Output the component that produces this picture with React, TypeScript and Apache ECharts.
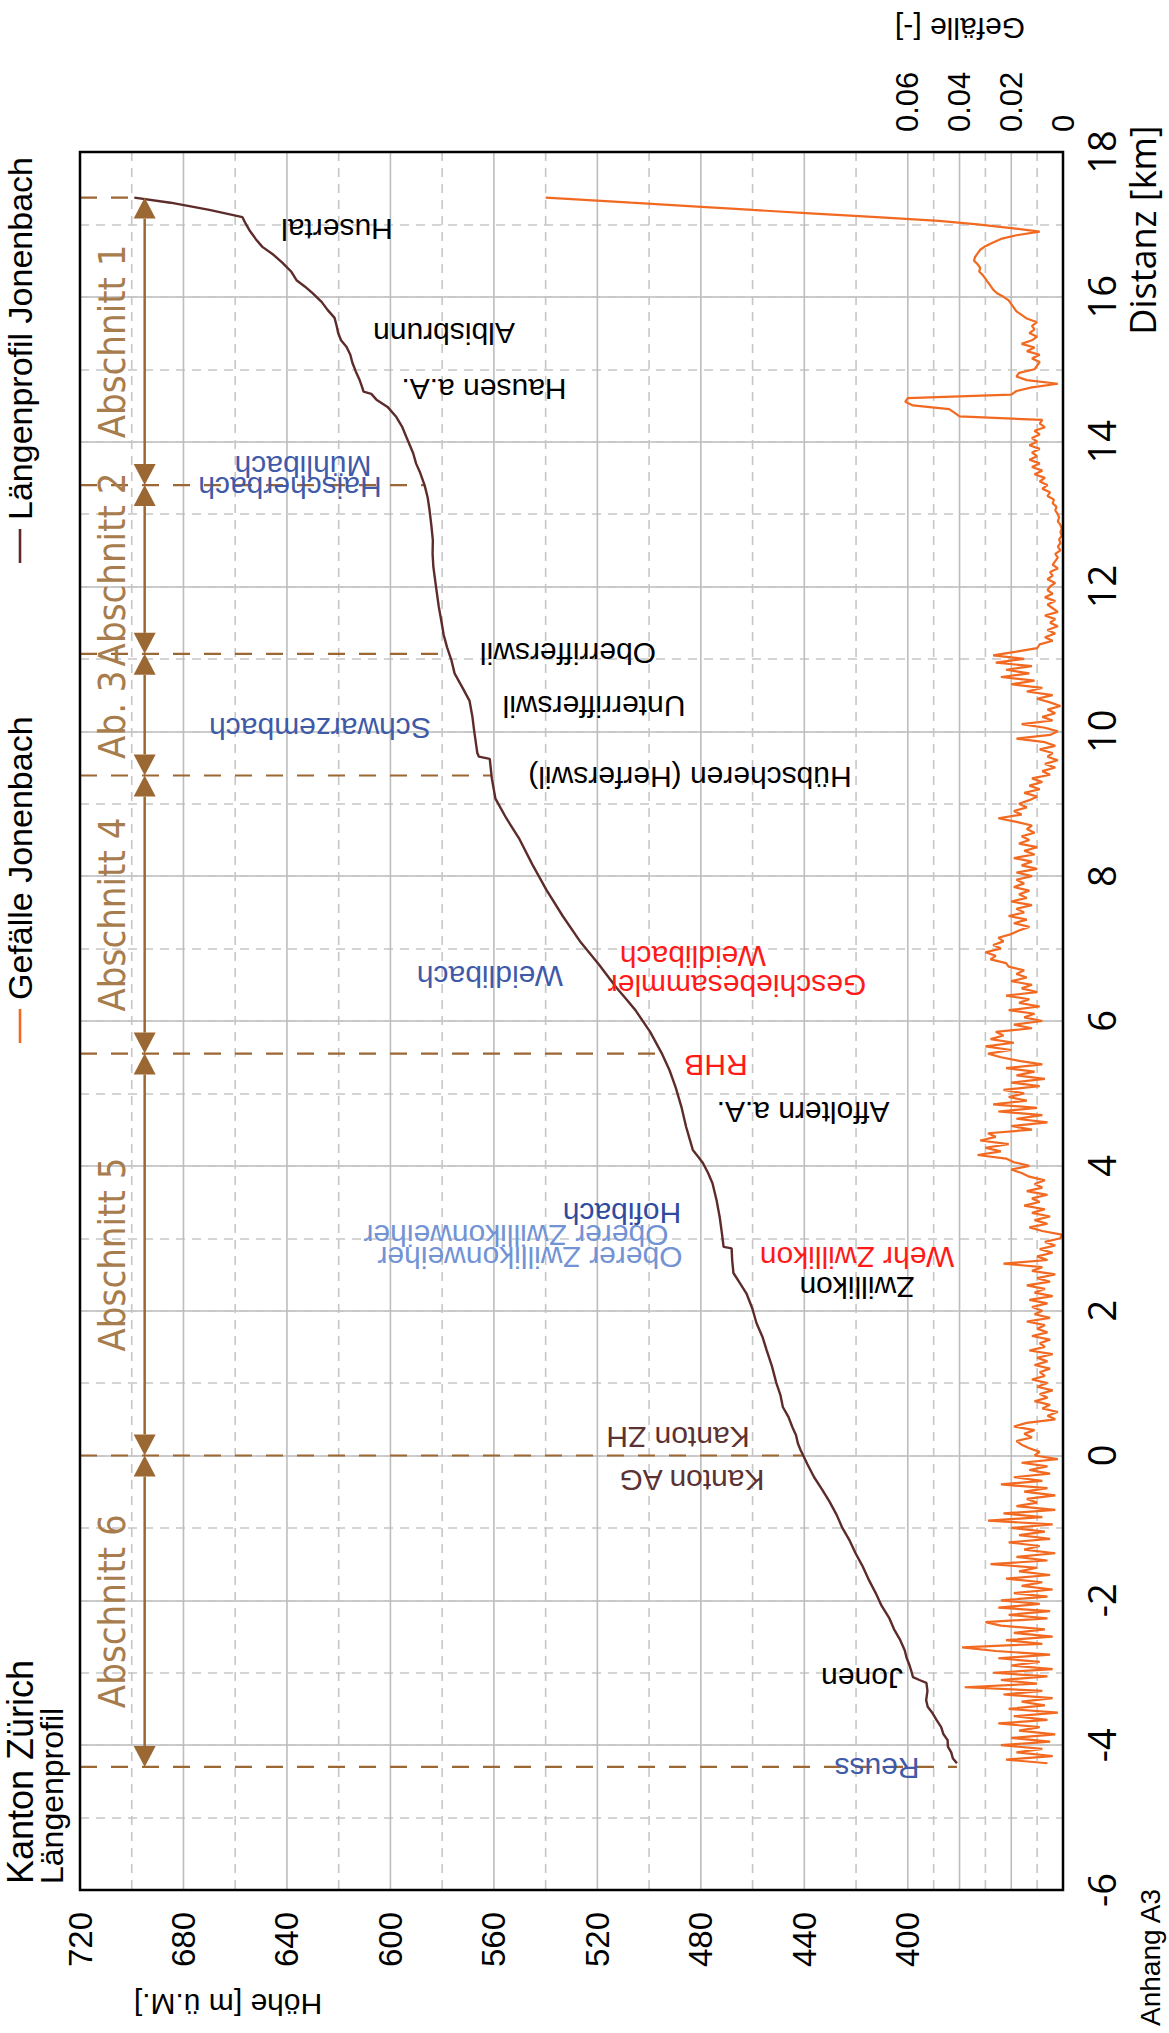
import React, { useEffect, useRef } from "react";
import * as echarts from "echarts";

// Höhe-Gitterlinien [m ü.M.]
const hoeheSolidGrid = [360, 380, 400, 440, 480, 520, 560, 600, 640, 680];
const hoeheDashedGrid = [350, 370, 390, 420, 460, 500, 540, 580, 620, 660, 700];

// Längenprofil Jonenbach: [Distanz km, Höhe m ü.M.]
const profil: [number, number][] = [
  [-4.25, 381], [-4.18, 382.6], [-4.1, 383.2], [-4.02, 384.5], [-3.93, 384.6], [-3.85, 386.2], [-3.75, 387.1],
  [-3.65, 388.9], [-3.56, 390.4], [-3.47, 392.3], [-3.38, 392.9], [-3.25, 392.4], [-3.14, 392.8], [-3.1, 395.5],
  [-3.06, 398], [-2.98, 398.6], [-2.9, 399.3], [-2.8, 400.4], [-2.69, 401.2], [-2.55, 402.9], [-2.4, 405.3],
  [-2.25, 407.1], [-2.07, 410.2], [-1.9, 412.4], [-1.7, 415.3], [-1.52, 417.6], [-1.35, 420.2], [-1.18, 422.4],
  [-1.0, 425.3], [-0.82, 427.5], [-0.64, 430.2], [-0.47, 433.1], [-0.3, 436.2], [-0.12, 438.8], [0.08, 441.5],
  [0.17, 442.5], [0.28, 443.2], [0.39, 444.6], [0.53, 446.1], [0.67, 448.3], [0.83, 449.2], [1.0, 450.8],
  [1.23, 452.5], [1.46, 454.6], [1.64, 456.2], [1.83, 458.5], [2.03, 460.1], [2.24, 462.4], [2.38, 464.9],
  [2.52, 467.4], [2.7, 467.9], [2.86, 468.1], [2.88, 471.2], [3.08, 471.9], [3.29, 472.7], [3.52, 473.9],
  [3.76, 475.5], [3.9, 477.2], [4.04, 479.2], [4.13, 481.1], [4.22, 483.1], [4.38, 484.4], [4.54, 485.7],
  [4.8, 487.4], [5.08, 489.7], [5.32, 492.1], [5.56, 495.2], [5.85, 499.6], [6.15, 505.3], [6.3, 508.8],
  [6.46, 512.6], [6.78, 519.4], [7.09, 526.5], [7.45, 533.4], [7.81, 539.7], [8.16, 545.1], [8.51, 550.1],
  [8.8, 555.2], [9.07, 559.4], [9.35, 560.8], [9.62, 561.6], [9.65, 565.8], [9.7, 566.4], [10.0, 567.6],
  [10.2, 568.3], [10.42, 569.4], [10.6, 572.1], [10.8, 575.2], [10.98, 576.4], [11.16, 578.1], [11.33, 579.4],
  [11.5, 580.2], [11.72, 581.3], [11.95, 582.2], [12.27, 583.4], [12.45, 583.7], [12.64, 583.6], [12.85, 584.2],
  [13.06, 584.9], [13.23, 585.6], [13.4, 586.8], [13.57, 588.5], [13.7, 590.1], [13.84, 591.2], [14.06, 593.8],
  [14.2, 595.4], [14.34, 597.7], [14.48, 601.1], [14.58, 605.4], [14.66, 607.4], [14.69, 610.4], [14.75, 610.9],
  [14.85, 611.9], [14.97, 613.4], [15.09, 614.7], [15.2, 615.5], [15.31, 617.0], [15.4, 619.1], [15.5, 620.2],
  [15.6, 620.8], [15.71, 621.6], [15.82, 624.3], [15.93, 626.6], [16.05, 630.1], [16.14, 633.0], [16.23, 636.3],
  [16.35, 638.4], [16.47, 641.7], [16.58, 645.2], [16.69, 649.5], [16.8, 652.1], [16.92, 654.5], [17.0, 655.8],
  [17.1, 657.2], [17.2, 670], [17.3, 685], [17.37, 699],
];

// Gefälle Jonenbach: [Distanz km, Gefälle ‰]
const gefaelle: [number, number][] = [
  [-4.25, 6], [-4.2, 22], [-4.15, 4], [-4.1, 18], [-4.05, 8], [-4, 24], [-3.95, 5], [-3.9, 20], [-3.85, 3], [-3.8, 17],
  [-3.75, 9], [-3.7, 25], [-3.65, 6], [-3.6, 19], [-3.55, 2], [-3.5, 21], [-3.45, 7], [-3.4, 16], [-3.35, 4], [-3.3, 23],
  [-3.25, 8], [-3.2, 38], [-3.15, 10], [-3.1, 24], [-3.05, 6], [-3, 27], [-2.95, 4], [-2.9, 20], [-2.85, 9], [-2.8, 25],
  [-2.75, 5], [-2.7, 26], [-2.65, 39], [-2.6, 8], [-2.55, 22], [-2.5, 4], [-2.45, 19], [-2.4, 7], [-2.35, 24], [-2.3, 30],
  [-2.25, 6], [-2.2, 21], [-2.15, 5], [-2.1, 25], [-2.05, 9], [-2, 24],
  [-1.95, 6], [-1.9, 19], [-1.85, 4], [-1.8, 16], [-1.75, 8], [-1.7, 22], [-1.65, 5], [-1.6, 17], [-1.55, 10], [-1.5, 28],
  [-1.45, 6], [-1.4, 18], [-1.35, 3], [-1.3, 15], [-1.25, 9], [-1.2, 21], [-1.15, 5], [-1.1, 17],
  [-1.05, 7], [-1, 20], [-0.95, 4], [-0.9, 29], [-0.85, 8], [-0.8, 23], [-0.75, 3], [-0.7, 18], [-0.65, 10], [-0.6, 14],
  [-0.55, 3], [-0.5, 15], [-0.45, 6], [-0.4, 24], [-0.35, 8], [-0.3, 19], [-0.25, 5], [-0.2, 13], [-0.15, 6], [-0.1, 16],
  [-0.05, 2], [0, 11],
  [0.05, 9], [0.1, 13], [0.15, 16], [0.2, 18], [0.25, 12], [0.3, 15], [0.35, 11], [0.4, 19], [0.45, 14], [0.5, 3],
  [0.55, 6], [0.6, 2], [0.65, 8], [0.7, 5], [0.75, 11], [0.8, 6], [0.85, 9], [0.9, 4], [0.95, 10], [1, 6],
  [1.05, 12], [1.1, 7], [1.15, 9], [1.2, 5], [1.25, 11], [1.3, 6], [1.35, 10], [1.4, 4], [1.45, 13], [1.5, 7],
  [1.55, 9], [1.6, 5], [1.65, 12], [1.7, 6], [1.75, 10], [1.8, 7], [1.85, 14], [1.9, 5], [1.95, 11], [2, 8],
  [2.05, 12], [2.1, 6], [2.15, 13], [2.2, 4], [2.25, 11], [2.3, 7], [2.35, 14], [2.4, 5], [2.45, 10], [2.5, 3],
  [2.55, 12], [2.6, 8], [2.65, 23], [2.7, 6], [2.75, 10], [2.8, 4], [2.85, 9], [2.9, 3], [2.95, 7], [3, 1],
  [3.05, 0.5], [3.1, 8], [3.15, 13], [3.2, 6], [3.25, 11], [3.3, 5], [3.35, 12], [3.4, 7], [3.45, 15], [3.5, 9],
  [3.55, 12], [3.6, 6], [3.65, 14], [3.7, 8], [3.75, 11], [3.8, 7], [3.85, 13], [3.9, 16], [3.95, 20], [4, 13],
  [4.05, 19], [4.1, 22], [4.15, 33], [4.2, 24], [4.25, 30], [4.3, 21], [4.35, 32], [4.4, 26], [4.45, 29],
  [4.5, 12], [4.55, 20], [4.6, 6], [4.65, 18], [4.7, 8], [4.75, 25], [4.8, 10], [4.85, 27], [4.9, 14], [4.95, 21],
  [5, 15], [5.05, 23], [5.1, 9], [5.15, 20], [5.2, 7], [5.25, 18], [5.3, 11], [5.35, 22], [5.4, 8], [5.45, 17],
  [5.5, 24], [5.55, 29], [5.6, 20], [5.65, 30], [5.7, 19], [5.75, 28], [5.8, 23], [5.85, 26],
  [5.9, 12], [5.95, 19], [6, 8], [6.05, 15], [6.1, 11], [6.15, 21], [6.2, 9], [6.25, 17], [6.3, 13], [6.35, 22],
  [6.4, 10], [6.45, 16], [6.5, 12], [6.55, 20], [6.6, 14], [6.65, 18], [6.7, 15], [6.75, 21],
  [6.8, 22], [6.85, 28], [6.9, 26], [6.95, 30], [7, 24], [7.05, 27], [7.1, 23], [7.15, 25], [7.2, 20],
  [7.25, 17], [7.3, 13], [7.35, 19], [7.4, 14], [7.45, 21], [7.5, 15], [7.55, 18], [7.6, 12], [7.65, 20], [7.7, 14],
  [7.75, 17], [7.8, 13], [7.85, 19], [7.9, 15], [7.95, 18],
  [8, 12], [8.05, 18], [8.1, 10], [8.15, 16], [8.2, 12], [8.25, 19], [8.3, 11], [8.35, 15], [8.4, 10], [8.45, 17],
  [8.5, 13], [8.55, 16], [8.6, 11], [8.65, 14], [8.7, 12], [8.75, 18], [8.8, 25], [8.85, 16], [8.9, 19], [8.95, 14],
  [9, 17], [9.05, 13], [9.1, 10], [9.15, 15], [9.2, 9], [9.25, 13], [9.3, 8], [9.35, 12],
  [9.4, 5], [9.45, 8], [9.5, 3], [9.55, 7], [9.6, 2], [9.65, 6], [9.7, 4], [9.75, 9], [9.8, 3], [9.85, 7], [9.9, 18],
  [9.95, 5], [10, 2], [10.05, 7], [10.1, 16], [10.15, 4], [10.2, 8], [10.25, 3], [10.3, 6], [10.35, 1], [10.4, 5],
  [10.45, 10], [10.5, 4], [10.55, 14], [10.6, 8], [10.65, 20], [10.7, 11], [10.75, 24], [10.8, 13], [10.85, 22], [10.9, 12],
  [10.95, 26], [11, 15], [11.05, 27], [11.1, 18], [11.15, 10], [11.2, 9],
  [11.25, 4], [11.3, 7], [11.35, 3], [11.4, 6], [11.45, 2], [11.5, 5], [11.55, 3], [11.6, 7], [11.65, 2], [11.7, 4],
  [11.75, 6], [11.8, 3], [11.85, 7], [11.9, 4], [11.95, 6], [12, 5],
  [12.05, 3], [12.1, 6], [12.15, 4], [12.2, 5], [12.25, 2], [12.3, 4], [12.35, 3], [12.4, 2], [12.45, 3], [12.5, 1],
  [12.55, 2], [12.6, 1], [12.65, 1.5], [12.7, 0.5], [12.75, 1], [12.8, 0.5], [12.85, 1], [12.9, 2], [12.95, 1.5], [13, 2],
  [13.05, 3], [13.1, 2.5], [13.15, 4], [13.2, 3.5], [13.25, 6],
  [13.3, 5], [13.35, 8], [13.4, 6], [13.45, 9], [13.5, 7], [13.55, 11], [13.6, 8], [13.65, 12], [13.7, 9], [13.75, 13],
  [13.8, 10], [13.85, 12], [13.9, 9], [13.95, 13], [14, 10], [14.05, 12], [14.1, 9], [14.15, 11], [14.2, 7],
  [14.25, 9], [14.3, 8], [14.35, 40], [14.4, 42], [14.45, 44], [14.5, 58], [14.55, 61], [14.6, 60], [14.65, 20], [14.7, 18],
  [14.75, 12], [14.8, 2], [14.85, 14], [14.9, 18], [14.95, 17], [15, 11], [15.05, 10], [15.1, 9],
  [15.15, 12], [15.2, 9], [15.25, 14], [15.3, 11], [15.35, 16], [15.4, 12], [15.45, 10], [15.5, 13], [15.55, 11], [15.6, 12],
  [15.65, 10], [15.7, 14], [15.75, 16], [15.8, 18], [15.85, 19], [15.9, 20], [15.95, 21], [16, 23], [16.05, 25.5], [16.1, 27],
  [16.15, 28], [16.2, 29], [16.25, 30], [16.3, 31], [16.35, 32.4], [16.4, 32], [16.45, 33], [16.5, 34.4], [16.55, 34], [16.6, 33],
  [16.65, 32], [16.7, 30], [16.75, 27], [16.8, 24], [16.85, 18], [16.9, 9], [16.95, 20], [17, 33], [17.05, 48], [17.1, 72],
  [17.15, 96], [17.2, 120], [17.25, 143], [17.3, 167], [17.35, 190], [17.37, 200],
];

// Abschnittsgrenzen: [Distanz km, Höhe des Profils m ü.M.]
const abschnittGrenzen: [number, number][] = [
  [17.37, 699], [13.4, 586.8], [11.07, 577.5], [9.39, 561], [5.55, 495.2], [0, 440.5], [-4.3, 381],
];
const abschnittNamen = ["Abschnitt 1", "Abschnitt 2", "Ab. 3", "Abschnitt 4", "Abschnitt 5", "Abschnitt 6"];
const pfeilHoehe = 695;
const abschnittLabelHoehe = 707.5;

const ortsnamen = [
  { text: "Husertal", x: 337, y: 229, color: "#000000" },
  { text: "Albisbrunn", x: 444, y: 333, color: "#000000" },
  { text: "Hausen a.A.", x: 484, y: 389, color: "#000000" },
  { text: "Mühlibach", x: 303, y: 466, color: "#3F5AA8" },
  { text: "Haischerbach", x: 290, y: 487, color: "#3F5AA8" },
  { text: "Oberrifferswil", x: 568, y: 653, color: "#000000" },
  { text: "Unterrifferswil", x: 594, y: 706, color: "#000000" },
  { text: "Schwarzembach", x: 320, y: 728, color: "#3F5AA8" },
  { text: "Hübscheren (Herferswil)", x: 690, y: 777, color: "#000000" },
  { text: "Weidlibach", x: 693, y: 956, color: "#FF1A1A" },
  { text: "Weidlibach", x: 490, y: 976, color: "#3F5AA8" },
  { text: "Geschiebesammler", x: 737, y: 985, color: "#FF1A1A" },
  { text: "RHB", x: 716, y: 1065, color: "#FF1A1A" },
  { text: "Affoltern a.A.", x: 803, y: 1112, color: "#000000" },
  { text: "Hofibach", x: 622, y: 1213, color: "#2F4B9E" },
  { text: "Oberer Zwillikonweiher", x: 516, y: 1235, color: "#7293D4" },
  { text: "Oberer Zwillikonweiher", x: 530, y: 1257, color: "#7293D4" },
  { text: "Wehr Zwillikon", x: 857, y: 1257, color: "#FF1A1A" },
  { text: "Zwillikon", x: 857, y: 1287, color: "#000000" },
  { text: "Kanton ZH", x: 678, y: 1437, color: "#5C3232" },
  { text: "Kanton AG", x: 692, y: 1480, color: "#5C3232" },
  { text: "Jonen", x: 862, y: 1678, color: "#000000" },
  { text: "Reuss", x: 877, y: 1768, color: "#3F5AA8" },
];

const BRAUN = "#9B6733";
const BRAUN_TEXT = "#A87D4E";
const PROFIL_FARBE = "#5E2B2B";
const GEFAELLE_FARBE = "#F26A21";
const SANS = '"Liberation Sans", Arial, sans-serif';
const NARROW = '"Liberation Sans Narrow", "DejaVu Sans Condensed", sans-serif';
const OPEN = '"Open Sans", "Noto Sans", sans-serif';

// Legende (vertikal im linken Rand): Name, Farbe, Symbol-Mitte y, Textanfang y
const legende = [
  { name: "Gefälle Jonenbach", color: GEFAELLE_FARBE, symbolY: 1026, textY: 1000 },
  { name: "Längenprofil Jonenbach", color: PROFIL_FARBE, symbolY: 546, textY: 520 },
];

export default function App() {
  const ref = useRef<HTMLDivElement>(null);
  useEffect(() => {
    if (!ref.current) return;
    const chart = echarts.init(ref.current, null, { renderer: "svg" });

    const gridSeries = (values: number[], dashed: boolean) => ({
      type: "custom",
      xAxisIndex: 0,
      yAxisIndex: 0,
      silent: true,
      z: 1,
      data: values.map((v) => [v, 0]),
      encode: { x: 0, y: 1 },
      renderItem: (_p: any, api: any) => {
        const v = api.value(0);
        const a = api.coord([v, 18]);
        const b = api.coord([v, -6]);
        return {
          type: "line",
          shape: { x1: a[0], y1: a[1], x2: b[0], y2: b[1] },
          style: dashed
            ? { stroke: "#C6C6C6", lineWidth: 1.6, lineDash: [9, 7] }
            : { stroke: "#BDBDBD", lineWidth: 1.6 },
        };
      },
    });

    const sectionData = abschnittNamen.map((_, i) => [pfeilHoehe, abschnittGrenzen[i][0], abschnittGrenzen[i + 1][0], i]);
    const center = { align: "center", verticalAlign: "middle", textAlign: "center", textVerticalAlign: "middle" };
    const leftMid = { align: "left", verticalAlign: "middle", textAlign: "left", textVerticalAlign: "middle" };

    const option: any = {
      animation: false,
      backgroundColor: "#ffffff",
      grid: { left: 80, right: 106, top: 152, bottom: 143, show: true, borderColor: "#000", borderWidth: 2.5, backgroundColor: "transparent", z: 20 },
      xAxis: [
        {
          type: "value", min: 340, max: 720, interval: 20, inverse: true, position: "bottom",
          axisLine: { show: false }, axisTick: { show: false }, splitLine: { show: false },
          axisLabel: {
            rotate: 90, fontSize: 33, color: "#000", fontFamily: SANS, margin: 22,
            formatter: (v: number) => (v >= 400 && v % 40 === 0 ? String(v) : ""),
          },
        },
        {
          type: "value", min: 0, max: 0.38, interval: 0.02, inverse: true, position: "top",
          axisLine: { show: false }, axisTick: { show: false }, splitLine: { show: false },
          axisLabel: {
            rotate: 90, fontSize: 31, color: "#000", fontFamily: SANS, margin: 20,
            formatter: (v: number) => {
              const r = Math.round(v * 100) / 100;
              if (r > 0.06) return "";
              return r === 0 ? "0" : r.toFixed(2);
            },
          },
        },
      ],
      yAxis: [
        {
          type: "value", min: -6, max: 18, interval: 2, position: "right",
          axisLine: { show: false }, axisTick: { show: false },
          splitLine: { show: true, lineStyle: { color: "#BDBDBD", width: 1.6 } },
          axisLabel: { rotate: 90, fontSize: 38, color: "#000", fontFamily: OPEN, margin: 19 },
        },
        {
          type: "value", min: -6, max: 18, interval: 1, position: "right",
          axisLine: { show: false }, axisTick: { show: false }, axisLabel: { show: false },
          splitLine: { show: true, lineStyle: { color: "#C6C6C6", width: 1.6, type: [9, 7] } },
        },
      ],
      series: [
        gridSeries(hoeheSolidGrid, false),
        gridSeries(hoeheDashedGrid, true),
        {
          type: "custom", name: "Grenzen", xAxisIndex: 0, yAxisIndex: 0, silent: true, z: 3,
          data: abschnittGrenzen.map(([d, h]) => [h, d]),
          encode: { x: 0, y: 1 },
          renderItem: (_p: any, api: any) => {
            const h = api.value(0);
            const d = api.value(1);
            const a = api.coord([720, d]);
            const b = api.coord([h, d]);
            return {
              type: "line",
              shape: { x1: a[0], y1: a[1], x2: b[0], y2: b[1] },
              style: { stroke: BRAUN, lineWidth: 2.2, lineDash: [17, 14] },
            };
          },
        },
        {
          type: "line", name: "Gefälle Jonenbach", xAxisIndex: 1, yAxisIndex: 0,
          data: gefaelle.map(([d, g]) => [g / 1000, d]),
          showSymbol: false, symbol: "none", z: 4,
          lineStyle: { color: GEFAELLE_FARBE, width: 2.2 },
        },
        {
          type: "line", name: "Längenprofil Jonenbach", xAxisIndex: 0, yAxisIndex: 0,
          data: profil.map(([d, h]) => [h, d]),
          showSymbol: false, symbol: "none", z: 5,
          lineStyle: { color: PROFIL_FARBE, width: 2.4 },
        },
        {
          type: "custom", name: "Abschnitte", xAxisIndex: 0, yAxisIndex: 0, silent: true, z: 6,
          data: sectionData,
          encode: { x: 0, y: [1, 2] },
          renderItem: (_p: any, api: any) => {
            const hx = api.value(0);
            const top = api.value(1);
            const bottom = api.value(2);
            const idx = api.value(3);
            const pt = api.coord([hx, top]);
            const pb = api.coord([hx, bottom]);
            const lab = api.coord([abschnittLabelHoehe, (top + bottom) / 2]);
            const w = 11;
            const h = 21;
            return {
              type: "group",
              children: [
                { type: "line", shape: { x1: pt[0], y1: pt[1] + h, x2: pb[0], y2: pb[1] - h }, style: { stroke: BRAUN, lineWidth: 2.5 } },
                { type: "polygon", shape: { points: [[pt[0], pt[1]], [pt[0] - w, pt[1] + h], [pt[0] + w, pt[1] + h]] }, style: { fill: BRAUN } },
                { type: "polygon", shape: { points: [[pb[0], pb[1]], [pb[0] - w, pb[1] - h], [pb[0] + w, pb[1] - h]] }, style: { fill: BRAUN } },
                {
                  type: "text", x: lab[0], y: lab[1], rotation: Math.PI / 2,
                  style: { text: abschnittNamen[idx], fill: BRAUN_TEXT, font: `38px ${NARROW}`, ...center },
                },
              ],
            };
          },
        },
      ],
      graphic: [
        ...ortsnamen.map((l) => ({
          type: "text", x: l.x, y: l.y, rotation: Math.PI, silent: true, z: 30,
          style: { text: l.text, fill: l.color, font: `30px ${SANS}`, ...center },
        })),
        ...legende.flatMap((l) => [
          {
            type: "line", silent: true,
            shape: { x1: 20, y1: l.symbolY + 17, x2: 20, y2: l.symbolY - 17 },
            style: { stroke: l.color, lineWidth: 2.6 },
          },
          {
            type: "text", x: 20, y: l.textY, rotation: Math.PI / 2, silent: true,
            style: { text: l.name, fill: "#000", font: `34px ${SANS}`, ...leftMid },
          },
        ]),
        {
          type: "text", x: 1142, y: 230, rotation: Math.PI / 2, silent: true,
          style: { text: "Distanz [km]", fill: "#000", font: `36px ${OPEN}`, ...center },
        },
        {
          type: "text", x: 228, y: 2004, rotation: Math.PI, silent: true,
          style: { text: "Höhe [m ü.M.]", fill: "#000", font: `30px ${SANS}`, ...center },
        },
        {
          type: "text", x: 960, y: 28, rotation: Math.PI, silent: true,
          style: { text: "Gefälle [-]", fill: "#000", font: `30px ${SANS}`, ...center },
        },
        {
          type: "text", x: 20, y: 1884, rotation: Math.PI / 2, silent: true,
          style: { text: "Kanton Zürich", fill: "#000", font: `36px ${SANS}`, ...leftMid },
        },
        {
          type: "text", x: 52, y: 1884, rotation: Math.PI / 2, silent: true,
          style: { text: "Längenprofil", fill: "#000", font: `32px ${SANS}`, ...leftMid },
        },
        {
          type: "text", x: 1150, y: 2026, rotation: Math.PI / 2, silent: true,
          style: { text: "Anhang A3", fill: "#000", font: `28px ${SANS}`, ...leftMid },
        },
      ],
    };
    chart.setOption(option);
    return () => chart.dispose();
  }, []);
  return <div ref={ref} style={{ position: "absolute", left: 0, top: 0, width: 1169, height: 2033 }} />;
}
